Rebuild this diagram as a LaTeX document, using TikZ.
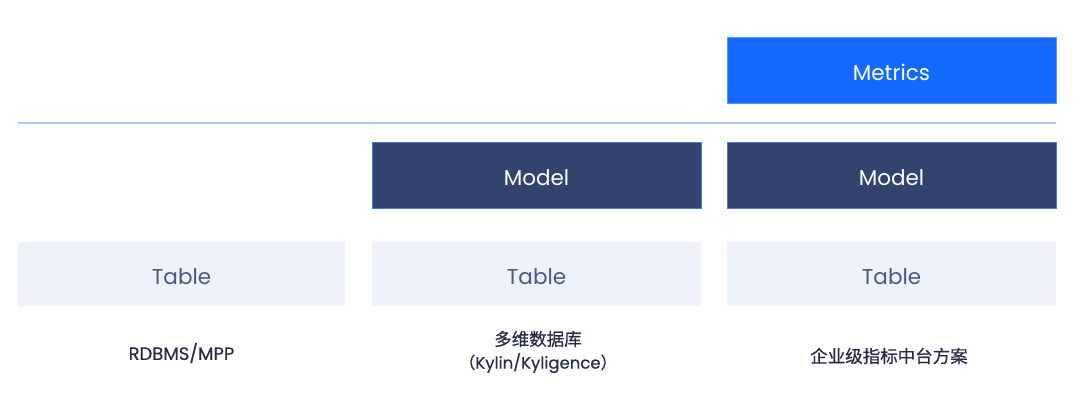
\documentclass[tikz,border=0pt]{standalone}
\usepackage{fontspec}
\setmainfont{Poppins}
\newfontfamily\cjk[FakeBold=0.6]{Noto Sans CJK SC}
\newfontfamily\labfont[FakeBold=0.4]{Poppins}
\definecolor{metblue}{HTML}{146AFF}
\definecolor{metedge}{HTML}{5B93F5}
\definecolor{modfill}{HTML}{33436E}
\definecolor{modedge}{HTML}{4A78D6}
\definecolor{tabfill}{HTML}{EEF2FA}
\definecolor{tabtext}{HTML}{4A5A85}
\definecolor{ruleblue}{HTML}{B0CCFF}
\definecolor{labtext}{HTML}{252D48}
\begin{document}
\begin{tikzpicture}[x=1pt,y=-1pt,
  boxbase/.style={minimum width=329pt,minimum height=66pt,inner sep=0pt,text height=21.5pt,text depth=0pt,font=\fontsize{21.5}{24}\selectfont},
  metbox/.style={boxbase,fill=metblue,draw=metedge,line width=0.6pt,text=white},
  modbox/.style={boxbase,fill=modfill,draw=modedge,line width=0.6pt,text=white},
  tabbox/.style={boxbase,minimum height=64pt,text height=20pt,fill=tabfill,text=tabtext},
  lab/.style={text=labtext,font=\labfont\fontsize{16.5}{23}\selectfont,align=center}]
\useasboundingbox (0,0) rectangle (1080,410);
\node[metbox] (met) at (891.5,70) {Metrics};
\coordinate (rl) at (18,123);
\coordinate (rr) at (1056,123);
\draw[draw=ruleblue,line width=1.2pt] (rl) -- (rr);
\node[modbox] (mod1) at (536.5,175) {Model};
\node[modbox] (mod2) at (891.5,175) {Model};
\node[tabbox,minimum width=327pt] (tab0) at (181.5,274) {Table};
\node[tabbox] (tab1) at (536.5,274) {Table};
\node[tabbox] (tab2) at (891.5,274) {Table};
\node[lab,font=\labfont\fontsize{18}{23}\selectfont] (l0) at (181.5,353) {RDBMS/MPP};
\node[lab] (l1) at (538,352) {{\cjk\fontsize{17.5}{23}\selectfont 多维数据库}\\{\cjk （}Kylin/Kyligence{\cjk ）}};
\node[lab] (l2) at (889,356) {\cjk\fontsize{17.5}{23}\selectfont 企业级指标中台方案};
\end{tikzpicture}
\end{document}
